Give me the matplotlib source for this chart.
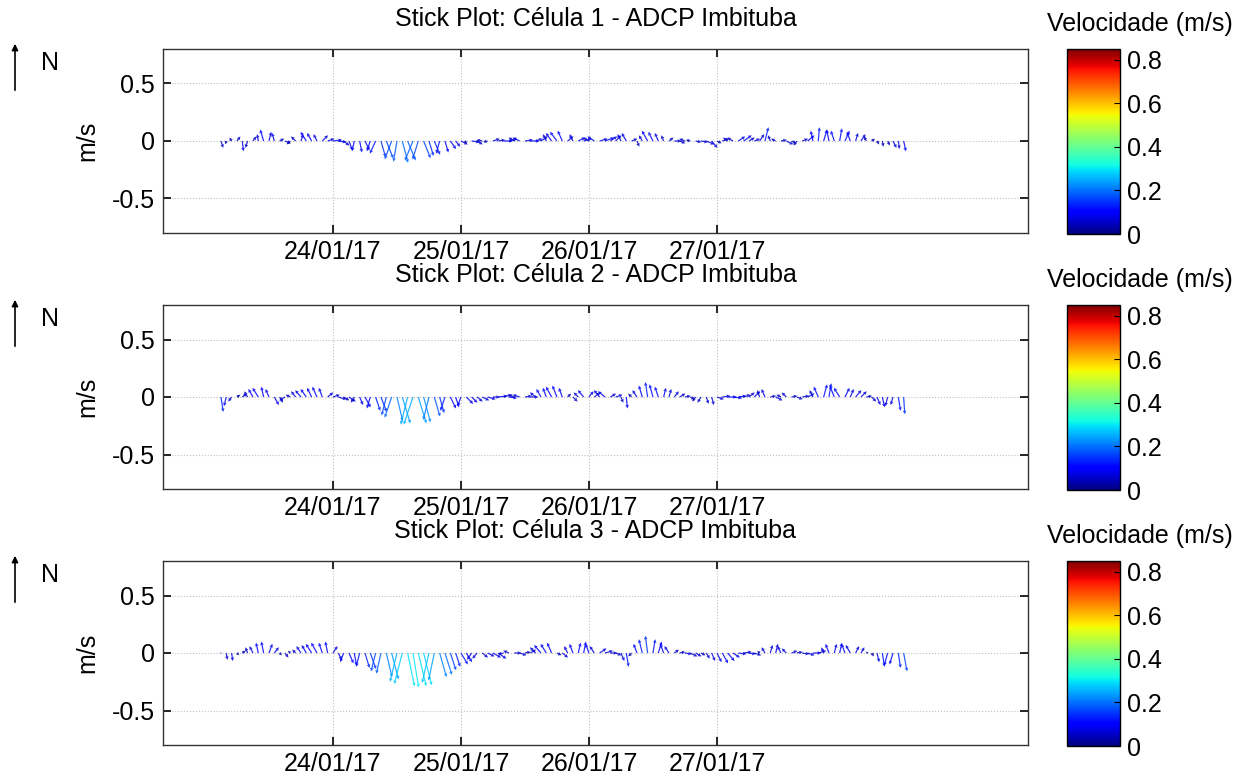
import numpy as np
import pandas as pd
import matplotlib
matplotlib.use("Agg")
import matplotlib.pyplot as plt
import matplotlib.dates as mdates
from matplotlib.colors import Normalize
from matplotlib.cm import ScalarMappable
from matplotlib.patches import FancyArrowPatch

plt.rcParams['font.family'] = ['Liberation Sans', 'DejaVu Sans']
plt.rcParams['axes.unicode_minus'] = False

# ---------------- data ----------------
titles = ["Stick Plot: Célula 1 - ADCP Imbituba",
          "Stick Plot: Célula 2 - ADCP Imbituba",
          "Stick Plot: Célula 3 - ADCP Imbituba"]
start_time = "2017-01-23 03:00"   # hourly samples
tick_dates = ["2017-01-24", "2017-01-25", "2017-01-26", "2017-01-27"]
tick_labels = ["24/01/17", "25/01/17", "26/01/17", "27/01/17"]
xlim_dates = ["2017-01-22 16:08", "2017-01-29 10:19"]
cbar_ticks = [0, 0.2, 0.4, 0.6, 0.8]
cbar_ticklabels = ["0", "0.2", "0.4", "0.6", "0.8"]
cbar_label = "Velocidade (m/s)"
ylabel = "m/s"

# Célula 1 (east / north components, m/s)
u1 = [0.02, -0.01, -0.02, 0.03, 0.01, -0.02, 0.03, -0.01, -0.03, 0.02,
      -0.02, 0.04, 0.05, -0.03, -0.04, 0.02, -0.05, -0.04, -0.03, 0.05,
      0.06, 0.08, 0.07, 0.05, 0.03, -0.02, 0.02, 0.04, -0.03, -0.05,
      0.04, 0.06, -0.06, -0.03, 0.05, 0.07, -0.07, -0.05, 0.06, 0.04,
      0.05, -0.03, 0.03, 0.05, 0.04, 0.06, -0.02, 0.07, 0.05, -0.05,
      -0.04, 0.06, 0.06, 0.08, 0.07, -0.05, -0.06, 0.07, 0.08, 0.06,
      0.06, -0.03, -0.05, -0.06, -0.04, 0.05, -0.03, 0.06, 0.07, -0.05,
      -0.06, 0.07, 0.08, 0.06, 0.05, -0.03, -0.04, 0.05, 0.02, -0.03,
      -0.05, -0.04, -0.03, -0.02, 0.04, 0.06, 0.05, -0.05, -0.04, 0.05,
      0.06, 0.07, 0.05, 0.04, 0.06, -0.04, -0.05, 0.06, 0.07, 0.05,
      0.05, 0.04, 0.03, -0.02, -0.04, 0.05, 0.06, 0.04, -0.03, 0.05,
      0.06, -0.02, 0.01, 0.03, -0.02, -0.03, 0.02, 0.04, -0.03, 0.02,
      0.04, -0.02, 0.03, 0.02, 0.01, 0.02, 0.03, 0.01, 0.02]
v1 = [-0.06, -0.03, 0.03, 0.04, -0.09, -0.06, 0.04, 0.06, 0.10, 0.08,
      0.07, 0.02, -0.02, -0.03, 0.04, 0.06, 0.08, 0.07, 0.06, 0.05,
      0.02, 0.01, -0.01, -0.04, -0.08, -0.09, -0.10, -0.08, -0.09, -0.11,
      -0.14, -0.15, -0.16, -0.18, -0.19, -0.17, -0.17, -0.16, -0.15, -0.13,
      -0.12, -0.11, -0.10, -0.07, -0.05, -0.03, -0.02, -0.01, -0.03, 0.01,
      -0.01, 0.02, 0.01, 0.00, 0.02, 0.03, 0.03, 0.01, 0.00, 0.02,
      0.04, 0.06, 0.07, 0.08, 0.09, 0.04, 0.06, 0.03, 0.02, 0.03,
      0.04, 0.02, 0.03, 0.04, 0.05, 0.06, 0.07, 0.02, -0.05, 0.05,
      0.09, 0.08, 0.07, 0.05, 0.03, 0.00, -0.02, 0.02, 0.01, -0.01,
      -0.01, -0.03, -0.06, -0.02, 0.02, 0.03, 0.03, 0.04, 0.05, 0.03,
      0.02, 0.06, 0.12, 0.05, 0.02, 0.01, -0.03, -0.02, -0.04, 0.02,
      0.05, 0.09, 0.12, 0.10, 0.10, 0.09, 0.11, 0.09, 0.08, 0.07,
      0.06, 0.04, 0.02, -0.03, -0.05, -0.04, -0.06, -0.07, -0.09]

# Célula 2
u2 = [0.02, -0.02, -0.03, 0.03, 0.04, -0.03, -0.04, -0.05, -0.02, -0.03,
      0.04, 0.03, -0.05, -0.04, -0.04, -0.05, -0.05, -0.04, -0.04, -0.03,
      0.05, 0.06, 0.07, 0.05, 0.06, -0.03, 0.03, 0.05, -0.03, 0.04,
      0.05, -0.04, -0.06, 0.05, 0.07, -0.06, -0.08, 0.07, 0.06, -0.05,
      0.05, 0.04, -0.04, 0.05, 0.03, -0.03, 0.06, 0.05, 0.05, 0.06,
      0.07, 0.06, 0.08, 0.07, 0.07, -0.05, -0.06, 0.06, 0.07, -0.05,
      -0.04, -0.03, -0.05, -0.04, -0.03, 0.03, 0.04, -0.04, -0.05, 0.04,
      0.05, -0.05, -0.06, 0.05, 0.06, 0.02, 0.01, -0.03, -0.04, -0.03,
      -0.02, -0.03, -0.03, 0.02, 0.02, 0.04, 0.05, 0.05, 0.04, -0.03,
      -0.03, 0.02, 0.02, 0.06, 0.07, 0.08, 0.08, 0.07, 0.06, 0.05,
      0.05, -0.02, -0.03, 0.05, 0.06, -0.04, -0.04, 0.05, 0.05, 0.06,
      0.06, -0.03, -0.04, 0.03, 0.02, -0.04, -0.05, 0.04, 0.03, 0.05,
      0.05, 0.05, 0.04, 0.03, 0.02, -0.02, -0.02, 0.02, 0.01]
v2 = [-0.13, -0.08, -0.04, 0.02, 0.03, 0.05, 0.07, 0.08, 0.09, 0.07,
      -0.07, -0.05, -0.03, 0.02, 0.05, 0.06, 0.07, 0.08, 0.09, 0.08,
      0.04, 0.02, -0.02, -0.03, -0.04, -0.05, -0.07, -0.09, -0.10, -0.12,
      -0.13, -0.16, -0.18, -0.21, -0.23, -0.24, -0.24, -0.23, -0.22, -0.20,
      -0.17, -0.14, -0.12, -0.10, -0.09, -0.08, -0.06, -0.05, -0.04, -0.03,
      -0.02, 0.00, 0.01, 0.02, -0.01, 0.02, 0.02, 0.01, 0.00, 0.04,
      0.07, 0.08, 0.09, 0.10, 0.08, 0.03, -0.04, 0.04, 0.06, 0.05,
      0.04, 0.06, 0.05, 0.03, 0.02, -0.05, -0.10, 0.03, 0.06, 0.10,
      0.13, 0.11, 0.09, 0.08, 0.07, 0.05, 0.03, 0.01, -0.02, -0.04,
      -0.05, -0.06, -0.07, -0.02, 0.01, 0.00, -0.01, 0.01, 0.02, 0.04,
      0.05, 0.06, 0.07, 0.01, -0.03, 0.02, 0.04, 0.01, -0.02, 0.01,
      0.03, 0.06, 0.09, 0.11, 0.12, 0.10, 0.08, 0.08, 0.07, 0.06,
      0.05, 0.01, -0.04, -0.07, -0.09, -0.08, -0.07, -0.12, -0.15]

# Célula 3
u3 = [0.00, 0.01, 0.01, 0.02, 0.03, -0.02, -0.03, -0.02, -0.02, 0.03,
      0.04, 0.02, 0.03, -0.02, -0.03, -0.04, -0.04, -0.05, -0.05, -0.03,
      -0.02, 0.04, 0.03, -0.03, 0.04, 0.02, -0.03, 0.04, 0.05, -0.04,
      -0.04, 0.05, 0.06, -0.06, -0.07, 0.06, 0.05, 0.07, 0.07, -0.06,
      -0.05, 0.06, 0.06, 0.05, 0.04, 0.06, 0.05, -0.04, -0.04, 0.05,
      0.06, 0.07, 0.07, -0.05, -0.05, 0.06, 0.06, 0.05, 0.05, -0.05,
      -0.06, -0.05, -0.04, 0.04, 0.05, -0.03, -0.03, 0.02, 0.02, -0.03,
      -0.04, 0.06, 0.07, 0.06, 0.05, 0.03, 0.02, -0.03, -0.03, -0.03,
      -0.02, 0.02, 0.03, -0.03, -0.04, 0.04, 0.05, 0.06, 0.06, 0.05,
      0.04, 0.03, 0.03, 0.04, 0.05, 0.06, 0.06, 0.07, 0.07, 0.06,
      0.06, -0.02, -0.03, 0.02, 0.02, -0.03, -0.04, 0.05, 0.05, 0.06,
      0.06, 0.07, 0.07, -0.02, -0.03, 0.02, 0.02, -0.03, -0.04, 0.03,
      0.03, 0.02, 0.02, 0.02, 0.02, -0.03, -0.03, 0.02, 0.03]
v3 = [-0.01, -0.06, -0.07, -0.02, 0.02, 0.05, 0.06, 0.09, 0.10, 0.08,
      0.05, -0.02, -0.04, 0.02, 0.03, 0.06, 0.07, 0.08, 0.09, 0.09,
      0.10, 0.06, -0.06, -0.08, -0.09, -0.11, -0.12, -0.13, -0.14, -0.16,
      -0.18, -0.21, -0.23, -0.25, -0.27, -0.29, -0.30, -0.29, -0.28, -0.26,
      -0.24, -0.21, -0.19, -0.15, -0.12, -0.10, -0.08, -0.06, -0.05, -0.04,
      -0.03, -0.04, -0.05, -0.01, 0.02, 0.00, -0.02, 0.01, 0.03, 0.05,
      0.07, 0.08, 0.09, -0.02, -0.04, 0.06, 0.08, 0.09, 0.10, 0.08,
      0.06, 0.04, 0.02, 0.00, -0.02, -0.07, -0.12, -0.03, 0.08, 0.12,
      0.15, 0.12, 0.10, 0.08, 0.06, 0.03, 0.01, -0.01, -0.03, -0.03,
      -0.02, -0.05, -0.07, -0.08, -0.09, -0.07, -0.04, -0.01, 0.01, -0.01,
      -0.02, 0.02, 0.05, 0.07, 0.08, 0.06, 0.04, 0.02, 0.01, -0.01,
      -0.02, 0.00, 0.02, 0.05, 0.08, 0.08, 0.09, 0.08, 0.07, 0.06,
      0.05, 0.01, -0.03, -0.08, -0.12, -0.11, -0.10, -0.13, -0.16]

series = [(u1, v1), (u2, v2), (u3, v3)]

# ---------------- figure ----------------
W, H = 1246, 783
fig = plt.figure(figsize=(W / 100, H / 100), dpi=100)
norm = Normalize(vmin=0, vmax=0.85)
cmap = plt.get_cmap('jet')

xl = mdates.date2num(pd.to_datetime(xlim_dates).to_pydatetime())
xt = mdates.date2num(pd.to_datetime(tick_dates).to_pydatetime())

ax_left, ax_right = 163, 1028
cb_left, cb_right = 1067, 1120
tops = [49, 305, 561]
ph = 184

for i, (title, (u, v)) in enumerate(zip(titles, series)):
    top = tops[i]
    ax = fig.add_axes([ax_left / W, 1 - (top + ph) / H, (ax_right - ax_left) / W, ph / H])
    u = np.asarray(u, dtype=float)
    v = np.asarray(v, dtype=float)
    n = min(len(u), len(v))
    u, v = u[:n], v[:n]
    times = pd.date_range(start_time, periods=n, freq="1h")
    x = mdates.date2num(times.to_pydatetime())
    spd = np.hypot(u, v)
    ax.quiver(x, np.zeros_like(x), u, v, spd, cmap=cmap, norm=norm,
              angles='uv', scale_units='y', scale=1, width=0.0014,
              headwidth=3, headlength=3, headaxislength=2.7,
              alpha=0.85, zorder=3)
    ax.set_xlim(xl[0], xl[1])
    ax.set_ylim(-0.8, 0.8)
    ax.set_yticks([-0.5, 0, 0.5])
    ax.set_yticklabels(["-0.5", "0", "0.5"])
    ax.set_xticks(xt)
    ax.set_xticklabels(tick_labels)
    ax.grid(True, linestyle=':', color='0.75', linewidth=0.8)
    ax.tick_params(direction='in', length=6, width=1.2, top=True, right=True,
                   labelsize=18, colors='black')
    ax.tick_params(axis='x', pad=5)
    ax.tick_params(axis='y', pad=6)
    for s in ax.spines.values():
        s.set_linewidth(1.0)
        s.set_color('0.2')
    ax.set_title(title, fontsize=18, pad=16.5)
    ax.set_ylabel(ylabel, fontsize=18, labelpad=9)

    # north arrow
    fig.add_artist(FancyArrowPatch(
        (15 / W, 1 - (top + 44) / H), (15 / W, 1 - (top - 8) / H),
        transform=fig.transFigure, arrowstyle='-|>', mutation_scale=9,
        color='black', linewidth=1.2))
    fig.text(50 / W, 1 - (top + 14) / H, "N", fontsize=18, ha='center', va='center')

    cax = fig.add_axes([cb_left / W, 1 - (top + ph + 1) / H, (cb_right - cb_left) / W, (ph + 1) / H])
    sm = ScalarMappable(norm=norm, cmap=cmap)
    cb = fig.colorbar(sm, cax=cax, ticks=cbar_ticks)
    cb.ax.set_yticklabels(cbar_ticklabels)
    cb.ax.tick_params(labelsize=18, direction='in', length=4, pad=5)
    cb.outline.set_linewidth(1.0)
    fig.text(1140 / W, 1 - (top - 25) / H, cbar_label, fontsize=18, ha='center', va='center')

fig.savefig("out.png", dpi=100)
